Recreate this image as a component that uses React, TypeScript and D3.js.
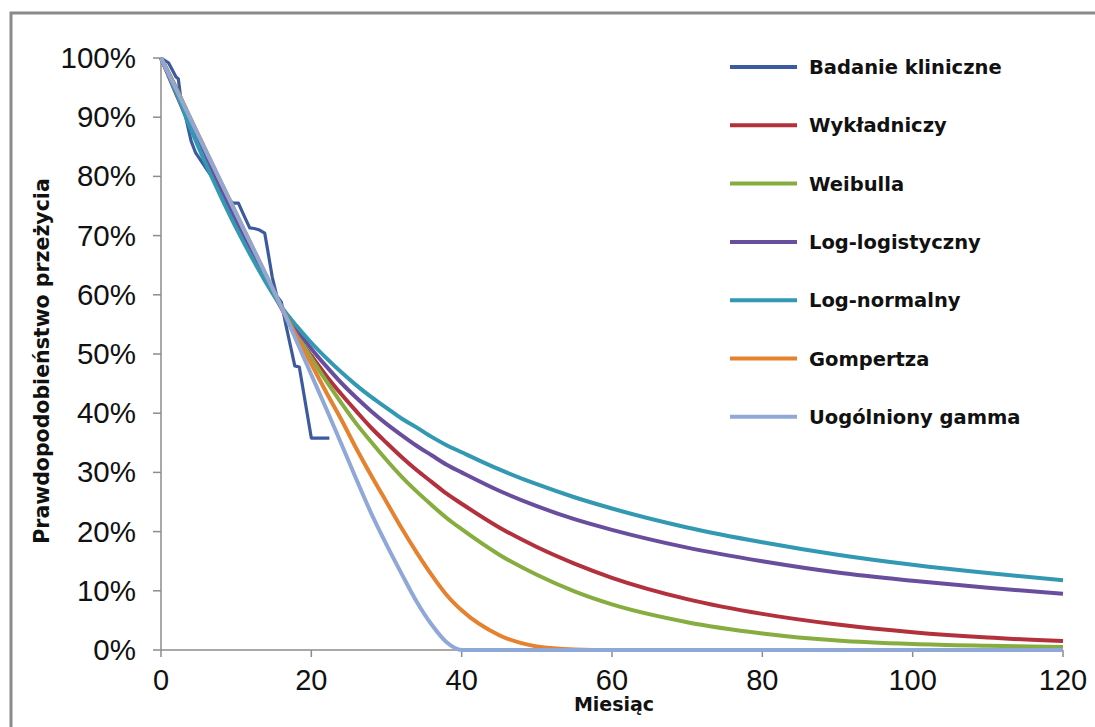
import React from "react";
import * as d3 from "d3";

const W = 1095;
const H = 727;

const months = [0, 2, 4, 6, 8, 10, 12, 14, 16, 18, 20, 22, 24, 26, 28, 30, 32, 34, 36, 38, 40, 45, 50, 55, 60, 70, 80, 90, 100, 110, 120];

const exponential = [100, 94.0, 88.2, 82.6, 77.3, 72.2, 67.3, 62.6, 57.8, 53.3, 49.7, 46.3, 43.2, 40.3, 37.5, 35.0, 32.6, 30.4, 28.4, 26.4, 24.7, 20.7, 17.4, 14.6, 12.2, 8.6, 6.1, 4.3, 3.0, 2.1, 1.5];
const weibull = [100, 95.0, 89.5, 83.8, 78.3, 73.0, 67.8, 62.8, 58.0, 53.5, 49.3, 45.4, 41.7, 38.2, 35.1, 32.1, 29.3, 26.8, 24.5, 22.3, 20.4, 16.1, 12.7, 9.9, 7.7, 4.7, 2.8, 1.6, 1.0, 0.7, 0.5];
const logLogistic = [100, 94.8, 88.8, 83.0, 77.5, 72.3, 67.2, 62.5, 58.0, 54.3, 50.9, 47.9, 45.1, 42.6, 40.3, 38.2, 36.3, 34.5, 32.9, 31.3, 30.0, 26.9, 24.3, 22.1, 20.3, 17.3, 15.0, 13.1, 11.7, 10.5, 9.5];
const logNormal = [100, 94.2, 87.9, 82.0, 76.5, 71.3, 66.5, 62.0, 58.0, 54.8, 51.9, 49.3, 46.9, 44.7, 42.7, 40.9, 39.1, 37.6, 36.0, 34.6, 33.4, 30.5, 28.0, 25.8, 23.9, 20.7, 18.2, 16.1, 14.4, 13.0, 11.8];
const gompertz = [100, 94.9, 89.6, 84.3, 79.0, 73.8, 68.5, 63.3, 58.0, 53.1, 48.3, 43.5, 38.9, 34.0, 29.4, 25.0, 20.6, 16.5, 12.7, 9.3, 6.7, 2.5, 0.6, 0.1, 0, 0, 0, 0, 0, 0, 0];
const genGamma = [100, 94.8, 89.5, 84.2, 79.0, 73.7, 68.5, 63.3, 58.0, 52.3, 46.5, 40.7, 34.8, 28.8, 23.0, 17.8, 12.9, 8.2, 4.3, 1.3, 0, 0, 0, 0, 0, 0, 0, 0, 0, 0, 0];

const kmMonths = [0, 1, 2, 2.3, 2.6, 3.2, 4.0, 4.6, 5.4, 6.2, 7.0, 8.0, 9.0, 9.6, 10.3, 11.0, 11.8, 12.4, 13.0, 13.8, 14.2, 14.8, 15.4, 16.0, 16.6, 17.2, 17.8, 18.4, 20.0, 22.4];
const kmValues = [100, 99.2, 96.8, 96.5, 93.5, 90.5, 86.0, 84.0, 82.5, 81.0, 79.5, 77.8, 76.0, 75.5, 75.5, 73.5, 71.3, 71.2, 71.0, 70.4, 67.5, 63.0, 59.8, 58.8, 55.0, 51.5, 48.0, 47.8, 35.8, 35.8];

const seriesNames = ["Badanie kliniczne", "Wykładniczy", "Weibulla", "Log-logistyczny", "Log-normalny", "Gompertza", "Uogólniony gamma"];
const seriesColors = ["#3C5B9E", "#B2313D", "#86AD3F", "#6A4E9E", "#3399B3", "#E5812F", "#8FA8D8"];

const xTicks = [0, 20, 40, 60, 80, 100, 120];
const yTicks = [0, 10, 20, 30, 40, 50, 60, 70, 80, 90, 100];

const xTitle = "Miesiąc";
const yTitle = "Prawdopodobieństwo przeżycia";

export default function App() {
  const x = d3.scaleLinear().domain([0, 120]).range([161, 1063]);
  const y = d3.scaleLinear().domain([0, 100]).range([650, 58]);

  const smooth = d3
    .line<[number, number]>()
    .x((d) => x(d[0]))
    .y((d) => y(d[1]))
    .curve(d3.curveMonotoneX);
  const straight = d3
    .line<[number, number]>()
    .x((d) => x(d[0]))
    .y((d) => y(d[1]));

  const models = [exponential, weibull, logLogistic, logNormal, gompertz, genGamma];
  const kmPath = straight(kmMonths.map((m, i) => [m, kmValues[i]] as [number, number]));

  const tickFont = "'Liberation Sans', Arial, sans-serif";
  const boldFont = "'DejaVu Sans', sans-serif";
  const axisColor = "#8c8c8c";

  const legendY0 = 67;
  const legendStep = 58.3;

  return (
    <div style={{ position: "absolute", left: 0, top: 0 }}>
      <svg width={W} height={H} style={{ display: "block", background: "#fff" }}>
        <rect x={11} y={13} width={1200} height={900} fill="#fff" stroke="#8a8a8a" strokeWidth={3} />

        {/* axes */}
        <line x1={x(0)} x2={x(0)} y1={y(100)} y2={y(0)} stroke={axisColor} strokeWidth={1.5} />
        <line x1={x(0)} x2={x(120)} y1={y(0)} y2={y(0)} stroke={axisColor} strokeWidth={1.5} />
        {yTicks.map((t) => (
          <g key={"y" + t}>
            <line x1={x(0) - 8} x2={x(0)} y1={y(t)} y2={y(t)} stroke={axisColor} strokeWidth={1.5} />
            <text x={136} y={y(t) + 10} textAnchor="end" fontFamily={tickFont} fontSize={29.5} fill="#111">
              {t + "%"}
            </text>
          </g>
        ))}
        {xTicks.map((t) => (
          <g key={"x" + t}>
            <line x1={x(t)} x2={x(t)} y1={y(0)} y2={y(0) + 7} stroke={axisColor} strokeWidth={1.5} />
            <text x={x(t)} y={690} textAnchor="middle" fontFamily={tickFont} fontSize={29} fill="#111">
              {t}
            </text>
          </g>
        ))}

        <text x={614} y={711} textAnchor="middle" fontFamily={boldFont} fontWeight="bold" fontSize={19} fill="#111">
          {xTitle}
        </text>
        <text
          transform={`translate(49, 361) rotate(-90)`}
          textAnchor="middle"
          fontFamily={boldFont}
          fontWeight="bold"
          fontSize={20.5}
          fill="#111"
        >
          {yTitle}
        </text>

        {/* curves */}
        <path d={kmPath || ""} fill="none" stroke={seriesColors[0]} strokeWidth={3.2} strokeLinejoin="round" />
        {models.map((vals, i) => (
          <path
            key={"m" + i}
            d={smooth(months.map((m, j) => [m, vals[j]] as [number, number])) || ""}
            fill="none"
            stroke={seriesColors[i + 1]}
            strokeWidth={4}
            strokeLinejoin="round"
          />
        ))}

        {/* legend */}
        {seriesNames.map((name, i) => (
          <g key={"l" + i}>
            <line
              x1={730}
              x2={797}
              y1={legendY0 + i * legendStep}
              y2={legendY0 + i * legendStep}
              stroke={seriesColors[i]}
              strokeWidth={4}
            />
            <text
              x={809}
              y={legendY0 + i * legendStep + 7}
              fontFamily={boldFont}
              fontWeight="bold"
              fontSize={19.5}
              fill="#111"
            >
              {name}
            </text>
          </g>
        ))}
      </svg>
    </div>
  );
}
